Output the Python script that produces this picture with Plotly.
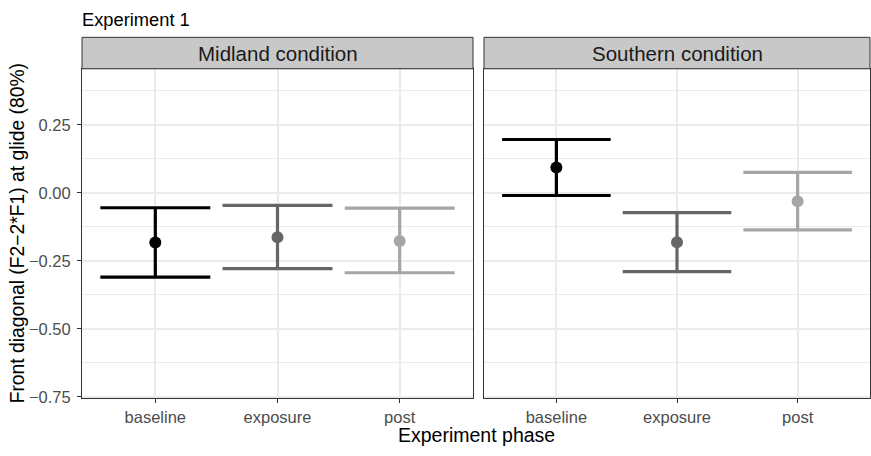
import plotly.graph_objects as go

# Estimated marginal means with 80% intervals, by condition and phase
phases = ["baseline", "exposure", "post"]
conditions = ["Midland condition", "Southern condition"]

midland_mean = [-0.183, -0.163, -0.177]
midland_lower = [-0.310, -0.279, -0.294]
midland_upper = [-0.055, -0.046, -0.056]

southern_mean = [0.093, -0.182, -0.031]
southern_lower = [-0.010, -0.290, -0.136]
southern_upper = [0.196, -0.073, 0.075]

y_tick_values = [-0.75, -0.50, -0.25, 0.00, 0.25]
y_tick_labels = ["\u22120.75", "\u22120.50", "\u22120.25", "0.00", "0.25"]

phase_colors = ["#000000", "#666666", "#A6A6A6"]

# ---- page geometry (px) ----
W, H = 871, 456
panel_x = [(82, 473), (484, 870)]
plot_top, plot_bottom = 70, 405
strip_top = 38
x_range = [0.4, 3.6]
y_range = [-0.754, 0.456]
bar_halfwidth_units = 0.45

FONT = "Liberation Sans, Arial, sans-serif"


def px_x(p):
    return p / W


def px_y(p):
    return 1 - p / H


fig = go.Figure()

panels = [
    (midland_mean, midland_lower, midland_upper),
    (southern_mean, southern_lower, southern_upper),
]

for k, (means, lowers, uppers) in enumerate(panels):
    xa = "x" if k == 0 else "x2"
    ya = "y" if k == 0 else "y2"
    width_px = panel_x[k][1] - panel_x[k][0]
    cap_px = bar_halfwidth_units * width_px / (x_range[1] - x_range[0])
    for i, phase in enumerate(phases):
        fig.add_trace(go.Scatter(
            x=[i + 1],
            y=[means[i]],
            mode="markers",
            marker=dict(color=phase_colors[i], size=12, line=dict(width=0)),
            error_y=dict(
                type="data",
                symmetric=False,
                array=[uppers[i] - means[i]],
                arrayminus=[means[i] - lowers[i]],
                color=phase_colors[i],
                thickness=3.2,
                width=cap_px,
            ),
            xaxis=xa,
            yaxis=ya,
            showlegend=False,
            hoverinfo="skip",
        ))

axis_common = dict(
    showline=True,
    mirror=True,
    linecolor="#333333",
    linewidth=1,
    ticks="outside",
    ticklen=4,
    tickwidth=1,
    tickcolor="#333333",
    showgrid=True,
    gridcolor="#EBEBEB",
    gridwidth=2,
    zeroline=False,
    tickfont=dict(family=FONT, size=16.5, color="#4D4D4D"),
)

x_common = dict(
    axis_common,
    range=x_range,
    tickmode="array",
    tickvals=[1, 2, 3],
    ticktext=phases,
)

y_common = dict(
    axis_common,
    range=y_range,
    tickmode="array",
    tickvals=y_tick_values,
    ticktext=y_tick_labels,
    ticklabelstandoff=3,
    minor=dict(
        tickmode="linear",
        tick0=0.125,
        dtick=0.25,
        showgrid=True,
        gridcolor="#EBEBEB",
        gridwidth=1,
        ticks="",
    ),
)

y_domain = [px_y(plot_bottom), px_y(plot_top)]

fig.update_layout(
    width=W,
    height=H,
    autosize=False,
    margin=dict(l=0, r=0, t=0, b=0),
    paper_bgcolor="white",
    plot_bgcolor="white",
    font=dict(family=FONT, color="#000000"),
    xaxis=dict(x_common, domain=[px_x(panel_x[0][0]), px_x(panel_x[0][1])], anchor="y"),
    xaxis2=dict(x_common, domain=[px_x(panel_x[1][0]), px_x(panel_x[1][1])], anchor="y2"),
    yaxis=dict(y_common, domain=y_domain, anchor="x"),
    yaxis2=dict(y_common, domain=y_domain, anchor="x2", matches="y",
                showticklabels=False, ticks=""),
)

# Facet strips
for k, label in enumerate(conditions):
    x0, x1 = panel_x[k]
    fig.add_shape(
        type="rect", xref="paper", yref="paper",
        x0=px_x(x0), x1=px_x(x1), y0=px_y(plot_top), y1=px_y(strip_top),
        fillcolor="#C8C8C8", line=dict(color="#333333", width=1), layer="above",
    )
    fig.add_annotation(
        x=px_x((x0 + x1) / 2), y=px_y((strip_top + plot_top) / 2),
        xref="paper", yref="paper", text=label, showarrow=False,
        xanchor="center", yanchor="middle",
        font=dict(family=FONT, size=20.5, color="#1A1A1A"),
    )

# Title and axis titles
fig.add_annotation(
    x=px_x(80), y=px_y(20), xref="paper", yref="paper",
    text="Experiment 1", showarrow=False, xanchor="left", yanchor="middle",
    font=dict(family=FONT, size=18.3, color="#000000"),
)
fig.add_annotation(
    x=px_x((panel_x[0][0] + panel_x[1][1]) / 2), y=px_y(443),
    xref="paper", yref="paper", text="Experiment phase", showarrow=False,
    xanchor="center", yanchor="middle",
    font=dict(family=FONT, size=19.5, color="#000000"),
)
fig.add_annotation(
    x=px_x(17), y=px_y((plot_top + plot_bottom) / 2),
    xref="paper", yref="paper",
    text="Front diagonal (F2\u22122*F1) at glide (80%)", showarrow=False,
    textangle=-90, xanchor="center", yanchor="middle",
    font=dict(family=FONT, size=19.3, color="#000000"),
)

fig.write_html("out.html", config={"responsive": False})
